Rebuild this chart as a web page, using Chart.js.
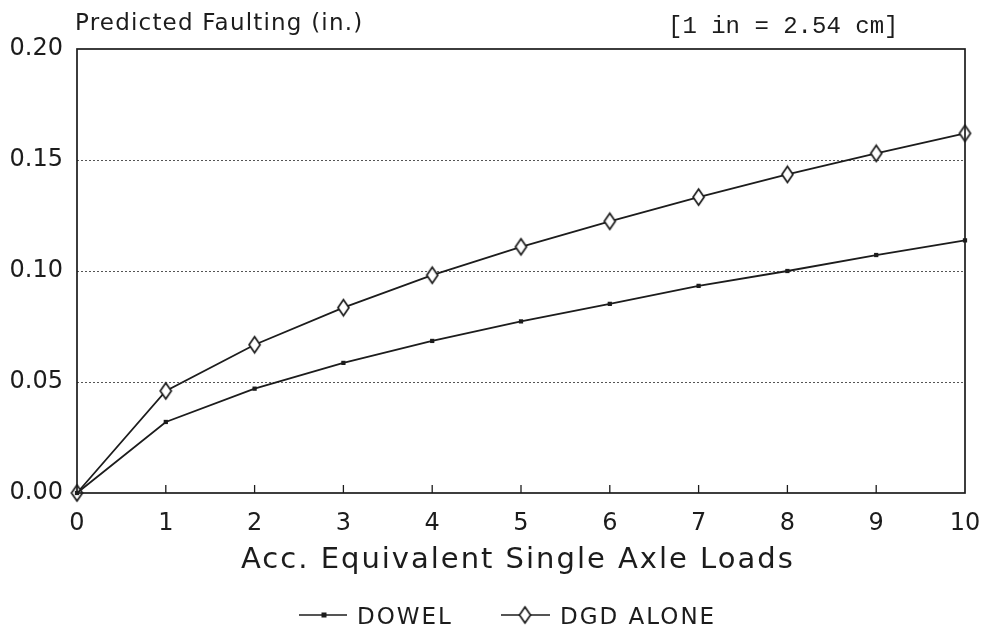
<!DOCTYPE html>
<html>
<head>
<meta charset="utf-8">
<title>Predicted Faulting</title>
<script src="https://cdn.jsdelivr.net/npm/chart.js@4.4.1/dist/chart.umd.min.js"></script>
<style>
  html, body { margin: 0; padding: 0; background: #fff; }
  #wrap { width: 981px; height: 632px; }
</style>
</head>
<body>
<div id="wrap"><canvas id="c" width="981" height="632"></canvas></div>
<script>
// --- data ---
const loads = [0, 1, 2, 3, 4, 5, 6, 7, 8, 9, 10];
const dowel = [0, 0.032, 0.047, 0.0586, 0.0685, 0.0773, 0.0852, 0.0933, 0.100, 0.1072, 0.1138];
const dgdAlone = [0, 0.046, 0.0668, 0.0835, 0.0981, 0.1109, 0.1224, 0.1333, 0.1435, 0.153, 0.162];
const yTickLabels = ['0.00', '0.05', '0.10', '0.15', '0.20'];
const xTickLabels = ['0', '1', '2', '3', '4', '5', '6', '7', '8', '9', '10'];

const INK = '#1c1c1c';
const SANS = "'DejaVu Sans', 'Liberation Sans', sans-serif";

// tall open diamond used for the DGD series
function diamond(w, h) {
  const cv = document.createElement('canvas');
  cv.width = w + 4; cv.height = h + 4;
  const g = cv.getContext('2d');
  const cx = cv.width / 2, cy = cv.height / 2;
  g.beginPath();
  g.moveTo(cx, cy - h / 2);
  g.lineTo(cx + w / 2, cy);
  g.lineTo(cx, cy + h / 2);
  g.lineTo(cx - w / 2, cy);
  g.closePath();
  g.fillStyle = '#fff';
  g.fill();
  g.lineWidth = 1.7;
  g.strokeStyle = INK;
  g.stroke();
  return cv;
}
const DIAMOND = diamond(11, 16);

function spaced(ctx, txt, x, y, sp) {
  ctx.letterSpacing = sp + 'px';
  ctx.fillText(txt, x, y);
  ctx.letterSpacing = '0px';
}

// frame, inner x ticks, texts and legend
const decor = {
  id: 'decor',
  afterDraw(chart) {
    const { ctx, chartArea: a, scales } = chart;
    ctx.save();
    ctx.strokeStyle = INK;
    ctx.lineWidth = 1.7;
    ctx.strokeRect(a.left, a.top, a.right - a.left, a.bottom - a.top);

    // small upward ticks on the x axis
    ctx.lineWidth = 1.3;
    loads.forEach((v) => {
      if (v === loads[0] || v === loads[loads.length - 1]) return;
      const x = scales.x.getPixelForValue(v);
      ctx.beginPath();
      ctx.moveTo(x, a.bottom);
      ctx.lineTo(x, a.bottom - 8);
      ctx.stroke();
    });

    ctx.fillStyle = INK;
    ctx.textBaseline = 'middle';
    ctx.textAlign = 'left';
    ctx.font = '23px ' + SANS;
    spaced(ctx, 'Predicted Faulting (in.)', 75, 24, 1.2);

    ctx.font = "24px 'Liberation Mono', 'Courier New', monospace";
    ctx.textAlign = 'left';
    ctx.fillText('[1 in = 2.54 cm]', 668, 27);

    ctx.font = '29px ' + SANS;
    spaced(ctx, 'Acc. Equivalent Single Axle Loads', 241, 560, 2);

    // legend
    const ly = 615;
    ctx.font = '23px ' + SANS;
    ctx.lineWidth = 1.6;
    ctx.beginPath(); ctx.moveTo(299, ly); ctx.lineTo(347, ly); ctx.stroke();
    ctx.fillRect(321.5, ly - 2.5, 5, 5);
    spaced(ctx, 'DOWEL', 357, ly + 3, 2);
    ctx.beginPath(); ctx.moveTo(501, ly); ctx.lineTo(550, ly); ctx.stroke();
    ctx.drawImage(DIAMOND, 525 - DIAMOND.width / 2, ly - DIAMOND.height / 2);
    spaced(ctx, 'DGD ALONE', 560, ly + 3, 2);
    ctx.restore();
  }
};

new Chart(document.getElementById('c'), {
  type: 'line',
  data: {
    labels: loads,
    datasets: [
      {
        label: 'DOWEL', data: dowel,
        borderColor: INK, borderWidth: 1.8, backgroundColor: INK,
        pointStyle: 'rect', pointRadius: 3, pointBorderWidth: 0,
        tension: 0, clip: false,
      },
      {
        label: 'DGD ALONE', data: dgdAlone,
        borderColor: INK, borderWidth: 1.8, backgroundColor: '#fff',
        pointStyle: DIAMOND, pointRadius: 8,
        tension: 0, clip: false,
      },
    ],
  },
  options: {
    responsive: false, animation: false,
    layout: { padding: { left: 0, right: 16, top: 49, bottom: 0 } },
    plugins: { legend: { display: false }, tooltip: { enabled: false } },
    scales: {
      x: {
        type: 'linear', min: 0, max: 10,
        afterFit: (s) => { s.height = 139; s.paddingLeft = 0; s.paddingRight = 0; },
        grid: { display: false, drawTicks: false },
        border: { display: false },
        ticks: {
          stepSize: 1, padding: 16, color: INK,
          font: { family: SANS, size: 24 },
          callback: (v) => xTickLabels[loads.indexOf(v)],
        },
      },
      y: {
        min: 0, max: 0.2,
        afterFit: (s) => { s.width = 77; s.paddingTop = 0; s.paddingBottom = 0; },
        grid: {
          color: (c) => (c.tick.value > 0.001 && c.tick.value < 0.199) ? '#555' : 'rgba(0,0,0,0)',
          lineWidth: 1, drawTicks: false,
        },
        border: { display: false, dash: [2, 2] },
        ticks: {
          stepSize: 0.05, padding: 14, color: INK,
          font: { family: SANS, size: 24 },
          callback: (v) => yTickLabels[Math.round(v / 0.05)],
        },
      },
    },
  },
  plugins: [decor],
});
</script>
</body>
</html>
